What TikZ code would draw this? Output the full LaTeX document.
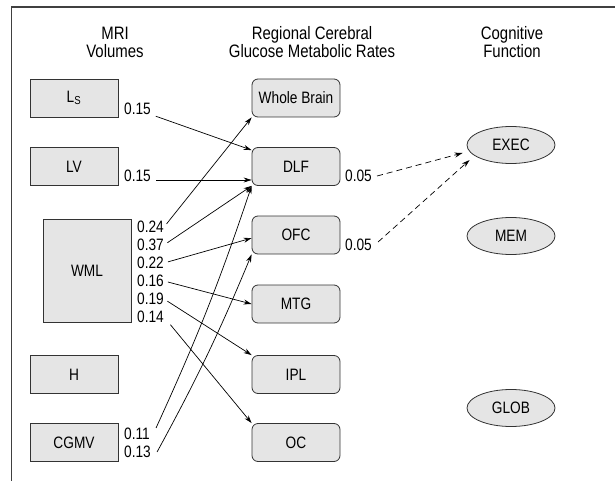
\documentclass[tikz,border=0pt]{standalone}
\usepackage{fontspec}
\setmainfont[FakeStretch=0.83]{Liberation Sans}
\usetikzlibrary{shapes.geometric,arrows.meta}
\tikzset{
  box/.style={draw=black!80,fill=black!10,line width=0.8pt,minimum width=88pt,minimum height=38pt,inner sep=0pt,font=\fontsize{16.5}{18}\selectfont},
  rbox/.style={box,rounded corners=6pt},
  cog/.style={box,ellipse,minimum width=88pt,minimum height=37pt},
  num/.style={anchor=west,inner sep=0pt,font=\fontsize{16.5}{18}\selectfont},
  head/.style={align=center,inner sep=0pt,font=\fontsize{18}{18}\selectfont},
  link/.style={->,line width=0.7pt,>={Stealth[length=8pt,width=5pt]}},
}
\begin{document}
\begin{tikzpicture}[x=1pt,y=-1pt]
    \useasboundingbox (0,0) rectangle (615,481);
    \draw[line width=1.6pt,black!75] (11.5,481) -- (11.5,7) -- (615,7);
    \node[head] (hmri) at (115,42) {MRI\\Volumes};
    \node[head] (hrate) at (312,42) {Regional Cerebral\\Glucose Metabolic Rates};
    \node[head] (hcog) at (512,42) {Cognitive\\Function};
    % MRI volumes
    \node[box] (ls) at (74,98) {L\textsubscript{S}};
    \node[box] (lv) at (74,166.5) {LV};
    \node[box,minimum height=103pt] (wml) at (87,270.5) {WML};
    \node[box] (h) at (74,374.5) {H};
    \node[box] (cgmv) at (74,442.5) {CGMV};
    % glucose metabolic rates
    \node[rbox] (wb) at (296,98) {Whole Brain};
    \node[rbox] (dlf) at (296,166.5) {DLF};
    \node[rbox] (ofc) at (296,235) {OFC};
    \node[rbox] (mtg) at (296,304) {MTG};
    \node[rbox] (ipl) at (296,374.5) {IPL};
    \node[rbox] (oc) at (296,442.5) {OC};
    % cognitive function
    \node[cog] (exec) at (511,145) {EXEC};
    \node[cog] (mem) at (511,236) {MEM};
    \node[cog] (glob) at (511,408) {GLOB};
    % coefficients
    \node[num] (nls) at (124,108.5) {0.15};
    \node[num] (nlv) at (124,175.5) {0.15};
    \foreach \v [count=\i] in {0.24,0.37,0.22,0.16,0.19,0.14}
    \node[num] (w\i) at (137,209+18*\i) {\v};
    \node[num] (c1) at (124,434) {0.11};
    \node[num] (c2) at (124,452) {0.13};
    \node[num] (d1) at (345,176) {0.05};
    \node[num] (d2) at (345,245) {0.05};
    \draw[link,shorten <=5pt] (nls.south east) -- ([yshift=-3pt]dlf.north west);
    \path ([yshift=-4.5pt]nlv.east) coordinate (slv);
    \draw[link,shorten <=5pt] (slv) -- (slv -| dlf.west);
    \foreach \i/\t/\s in {1/wb.south west/4pt,2/dlf.south west/4pt,3/ofc.184/4pt,4/mtg.west/4pt,5/ipl.north west/4pt,6/oc.north west/10pt}
    \draw[link,shorten <=\s] (w\i.east) -- (\t);
    \draw[link] ([xshift=6pt]c1.north east) to[bend right=3] (dlf.south west);
    \draw[link] ([xshift=6pt]c2.east) to[bend right=3] (ofc.south west);
    \draw[link,dash pattern=on 6pt off 4pt] ([xshift=5pt]d1.east) -- ([shift={(-4pt,-8pt)}]exec.west);
    \draw[link,dash pattern=on 6pt off 4pt] ([xshift=6pt,yshift=3pt]d2.east) -- ([shift={(3pt,-15pt)}]exec.west);
\end{tikzpicture}
\end{document}
